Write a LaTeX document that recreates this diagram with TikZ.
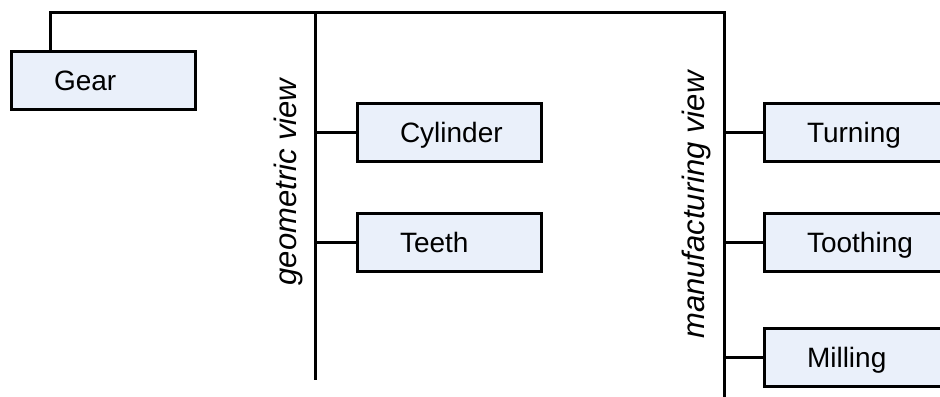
\documentclass[tikz,border=0pt]{standalone}
\usepackage{fontspec}
\setmainfont{Liberation Sans}
\usepackage{xcolor}
\usetikzlibrary{positioning}

\definecolor{boxfill}{RGB}{234,240,250}

\begin{document}
\begin{tikzpicture}[
    x=0.5pt, y=-0.5pt,
    line width=1.5pt,
    item/.style={draw, fill=boxfill, minimum width=92pt, minimum height=29pt,
        text width=49pt, align=left, text height=10pt, text depth=0pt,
        inner sep=0pt, font=\fontsize{14pt}{16pt}\selectfont},
    viewlabel/.style={rotate=90, font=\fontsize{15.5pt}{18pt}\selectfont\itshape}
]
\useasboundingbox (0,0) rectangle (940,396);

% Spine of the tree
\coordinate (root) at (50,12);
\coordinate (geotop) at (315,12);
\coordinate (geobot) at (315,380);
\coordinate (mfgtop) at (724,12);
\coordinate (mfgbot) at (724,400);

% Parts
\node[item] (gear) at (103,80.5) {Gear};
\node[item] (cylinder) at (449,132.5) {Cylinder};
\node[item] (teeth) at (449,242) {Teeth};
\node[item] (turning) at (856,132.5) {Turning};
\node[item] (toothing) at (856,242) {Toothing};
\node[item] (milling) at (856,357) {Milling};

% View labels
\node[viewlabel] (geoview) at (288,182) {geometric view};
\node[viewlabel] (mfgview) at (696,205) {manufacturing view};

% Connectors
\draw (root |- gear.north) -- (root) -- (mfgtop) -- (mfgbot);
\draw (geotop) -- (geobot);
\foreach \part in {cylinder, teeth} {
    \draw (\part.west) -- (\part.west -| geotop);
}
\foreach \part in {turning, toothing, milling} {
    \draw (\part.west) -- (\part.west -| mfgtop);
}

\end{tikzpicture}
\end{document}
